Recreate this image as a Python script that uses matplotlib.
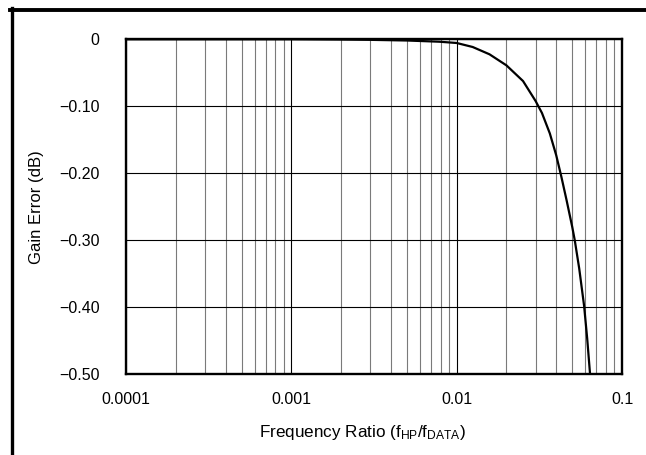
import matplotlib
matplotlib.use("Agg")
import matplotlib.pyplot as plt
from matplotlib.lines import Line2D
from matplotlib.ticker import FixedLocator, NullFormatter, LogLocator

plt.rcParams['font.family'] = ['Liberation Sans', 'DejaVu Sans']
plt.rcParams['mathtext.default'] = 'regular'

# Data
freq_ratio = [0.0001, 0.001, 0.002, 0.003, 0.005, 0.00785, 0.01, 0.0125, 0.0158,
              0.02, 0.0252, 0.03, 0.0328, 0.0366, 0.04, 0.043, 0.0462, 0.05,
              0.0518, 0.0551, 0.059, 0.0616, 0.0642]
gain_error = [0.0, 0.0, -0.0004, -0.0008, -0.0018, -0.0036, -0.0055, -0.0115, -0.0224,
              -0.0389, -0.0623, -0.092, -0.110, -0.1405, -0.173, -0.2054, -0.240, -0.280,
              -0.300, -0.342, -0.398, -0.447, -0.502]

y_ticks = [0, -0.1, -0.2, -0.3, -0.4, -0.5]
y_tick_labels = ['0', '\u22120.10', '\u22120.20', '\u22120.30', '\u22120.40', '\u22120.50']
x_ticks = [0.0001, 0.001, 0.01, 0.1]
x_tick_labels = ['0.0001', '0.001', '0.01', '0.1']

fig = plt.figure(figsize=(6.46, 4.55), dpi=100)
ax = fig.add_axes([126/646, 1 - 374.3/455, (622-126)/646, (374.3-39.3)/455])

ax.plot(freq_ratio, gain_error, color='black', lw=1.6, solid_joinstyle='round', zorder=3)

ax.set_xscale('log')
ax.set_xlim(0.0001, 0.1)
ax.set_ylim(-0.5, 0)

ax.xaxis.set_major_locator(FixedLocator(x_ticks))
ax.set_xticklabels(x_tick_labels)
ax.xaxis.set_minor_locator(LogLocator(base=10, subs=range(2, 10)))
ax.xaxis.set_minor_formatter(NullFormatter())
ax.set_yticks(y_ticks)
ax.set_yticklabels(y_tick_labels)

ax.tick_params(which='both', length=0, labelsize=11.5, colors='black')
ax.tick_params(axis='x', pad=13)
ax.tick_params(axis='y', pad=19)

ax.grid(which='major', axis='both', color='black', lw=0.8)
ax.grid(which='minor', axis='x', color='#7a7a7a', lw=0.8)
ax.set_axisbelow(True)

for s in ax.spines.values():
    s.set_linewidth(1.7)
    s.set_color('black')
    s.set_zorder(4)

ax.set_ylabel('Gain Error (dB)', fontsize=12, labelpad=11)
ax.set_xlabel(r'Frequency Ratio (f$_{HP}$/f$_{DATA}$)', fontsize=12.3)
ax.xaxis.set_label_coords((362 - 126) / 496, -(432 - 374.3) / 335, transform=ax.transAxes)
ax.xaxis.label.set_va('center')

# figure frame (top and left)
fig.add_artist(Line2D([10/646, 1], [1 - 10/455, 1 - 10/455], color='black', lw=2.8,
                      transform=fig.transFigure))
fig.add_artist(Line2D([11.7/646, 11.7/646], [1 - 8/455, 0], color='black', lw=2.4,
                      transform=fig.transFigure))

fig.savefig('out.png', dpi=100)
